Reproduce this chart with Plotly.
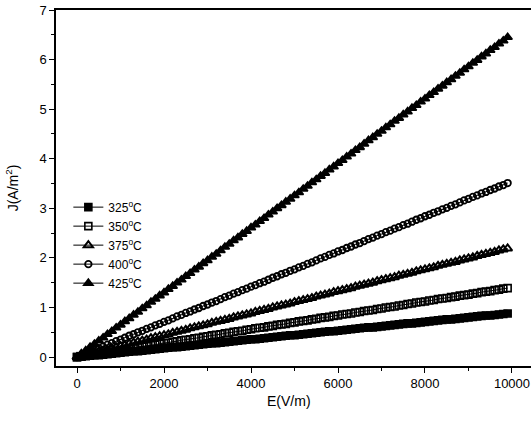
import plotly.graph_objects as go

E = list(range(0, 10000, 100))

J_325 = [0.00,0.01,0.02,0.03,0.04,0.04,0.05,0.06,0.07,0.08,
         0.09,0.10,0.11,0.12,0.12,0.13,0.14,0.15,0.16,0.17,
         0.18,0.19,0.20,0.20,0.21,0.22,0.23,0.24,0.25,0.26,
         0.27,0.28,0.28,0.29,0.30,0.31,0.32,0.33,0.34,0.35,
         0.36,0.36,0.37,0.38,0.39,0.40,0.41,0.42,0.43,0.44,
         0.44,0.45,0.46,0.47,0.48,0.49,0.50,0.51,0.52,0.52,
         0.53,0.54,0.55,0.56,0.57,0.58,0.59,0.60,0.60,0.61,
         0.62,0.63,0.64,0.65,0.66,0.67,0.68,0.68,0.69,0.70,
         0.71,0.72,0.73,0.74,0.75,0.76,0.76,0.77,0.78,0.79,
         0.80,0.81,0.82,0.83,0.84,0.84,0.85,0.86,0.87,0.88]

J_350 = [0.00,0.01,0.03,0.04,0.06,0.07,0.08,0.10,0.11,0.13,
         0.14,0.15,0.17,0.18,0.20,0.21,0.22,0.24,0.25,0.27,
         0.28,0.29,0.31,0.32,0.34,0.35,0.36,0.38,0.39,0.41,
         0.42,0.44,0.45,0.46,0.48,0.49,0.51,0.52,0.53,0.55,
         0.56,0.58,0.59,0.60,0.62,0.63,0.65,0.66,0.67,0.69,
         0.70,0.72,0.73,0.74,0.76,0.77,0.79,0.80,0.81,0.83,
         0.84,0.86,0.87,0.88,0.90,0.91,0.93,0.94,0.95,0.97,
         0.98,1.00,1.01,1.02,1.04,1.05,1.07,1.08,1.10,1.11,
         1.12,1.14,1.15,1.17,1.18,1.19,1.21,1.22,1.24,1.25,
         1.26,1.28,1.29,1.31,1.32,1.33,1.35,1.36,1.38,1.39]

J_375 = [0.00,0.02,0.04,0.07,0.09,0.11,0.13,0.15,0.18,0.20,
         0.22,0.24,0.27,0.29,0.31,0.33,0.35,0.38,0.40,0.42,
         0.44,0.46,0.49,0.51,0.53,0.55,0.58,0.60,0.62,0.64,
         0.66,0.69,0.71,0.73,0.75,0.77,0.80,0.82,0.84,0.86,
         0.88,0.91,0.93,0.95,0.97,1.00,1.02,1.04,1.06,1.08,
         1.11,1.13,1.15,1.17,1.19,1.22,1.24,1.26,1.28,1.31,
         1.33,1.35,1.37,1.39,1.42,1.44,1.46,1.48,1.50,1.53,
         1.55,1.57,1.59,1.61,1.64,1.66,1.68,1.70,1.73,1.75,
         1.77,1.79,1.81,1.84,1.86,1.88,1.90,1.92,1.95,1.97,
         1.99,2.01,2.04,2.06,2.08,2.10,2.12,2.15,2.17,2.19]

J_400 = [0.00,0.04,0.07,0.11,0.14,0.18,0.21,0.25,0.28,0.32,
         0.35,0.39,0.43,0.46,0.50,0.53,0.57,0.60,0.64,0.67,
         0.71,0.74,0.78,0.82,0.85,0.89,0.92,0.96,0.99,1.03,
         1.06,1.10,1.13,1.17,1.21,1.24,1.28,1.31,1.35,1.38,
         1.42,1.45,1.49,1.52,1.56,1.60,1.63,1.67,1.70,1.74,
         1.77,1.81,1.84,1.88,1.91,1.95,1.99,2.02,2.06,2.09,
         2.13,2.16,2.20,2.23,2.27,2.30,2.34,2.38,2.41,2.45,
         2.48,2.52,2.55,2.59,2.62,2.66,2.69,2.73,2.77,2.80,
         2.84,2.87,2.91,2.94,2.98,3.01,3.05,3.08,3.12,3.16,
         3.19,3.23,3.26,3.30,3.33,3.37,3.40,3.44,3.47,3.51]

J_425 = [0.00,0.07,0.13,0.20,0.26,0.33,0.39,0.46,0.52,0.59,
         0.65,0.72,0.78,0.85,0.91,0.98,1.04,1.11,1.17,1.24,
         1.30,1.37,1.43,1.50,1.56,1.63,1.69,1.76,1.82,1.89,
         1.95,2.02,2.08,2.15,2.22,2.28,2.35,2.41,2.48,2.54,
         2.61,2.67,2.74,2.80,2.87,2.93,3.00,3.06,3.13,3.19,
         3.26,3.32,3.39,3.45,3.52,3.58,3.65,3.71,3.78,3.84,
         3.91,3.97,4.04,4.10,4.17,4.23,4.30,4.37,4.43,4.50,
         4.56,4.63,4.69,4.76,4.82,4.89,4.95,5.02,5.08,5.15,
         5.21,5.28,5.34,5.41,5.47,5.54,5.60,5.67,5.73,5.80,
         5.86,5.93,5.99,6.06,6.12,6.19,6.25,6.32,6.38,6.45]

x_ticks = [0, 2000, 4000, 6000, 8000, 10000]
x_ticktext = ["0", "2000", "4000", "6000", "8000", "10000"]
y_ticks = [0, 1, 2, 3, 4, 5, 6, 7]

labels = ["325<sup>o</sup>C", "350<sup>o</sup>C", "375<sup>o</sup>C",
          "400<sup>o</sup>C", "425<sup>o</sup>C"]
series = [J_325, J_350, J_375, J_400, J_425]
symbols = ["square", "square-open", "triangle-up-open", "circle-open", "triangle-up"]
sizes = [7, 7, 8, 6.5, 8]
widths = [1.6, 1.6, 2.0, 1.8, 1.6]

fig = go.Figure()
for lab, ys, sym, sz, lw in zip(labels, series, symbols, sizes, widths):
    fig.add_trace(go.Scatter(
        x=E, y=ys, name=lab, mode="lines+markers",
        line=dict(color="black", width=1),
        marker=dict(symbol=sym, size=sz, color="black",
                    line=dict(color="black", width=lw)),
    ))

font = "Arial, Liberation Sans, sans-serif"
fig.update_layout(
    width=531, height=422,
    margin=dict(l=56, r=0, t=10, b=56, autoexpand=False),
    paper_bgcolor="white", plot_bgcolor="white",
    font=dict(family=font, size=13, color="black"),
    showlegend=True,
    legend=dict(x=0.026, y=0.487, xanchor="left", yanchor="top",
                bgcolor="rgba(0,0,0,0)", font=dict(size=12),
                itemwidth=30, tracegroupgap=0),
    annotations=[
        dict(text="E(V/m)", x=0.49, y=-0.097, xref="paper", yref="paper",
             xanchor="center", yanchor="middle", showarrow=False,
             font=dict(size=14)),
        dict(text="J(A/m<sup>2</sup>)", x=-0.092, y=0.5, xref="paper", yref="paper",
             xanchor="center", yanchor="middle", showarrow=False, textangle=-90,
             font=dict(size=14)),
    ],
)
fig.update_xaxes(
    range=[-483, 10437], showgrid=False, zeroline=False, automargin=False,
    showline=True, linecolor="black", linewidth=1.5, mirror=True,
    ticks="outside", ticklen=5, tickwidth=1, tickcolor="black",
    tickvals=x_ticks, ticktext=x_ticktext,
    minor=dict(ticks="outside", ticklen=3, tickcolor="black",
               tickvals=[1000, 3000, 5000, 7000, 9000]),
)
fig.update_yaxes(
    range=[-0.18, 7], showgrid=False, zeroline=False, automargin=False,
    showline=True, linecolor="black", linewidth=1.5, mirror=False,
    ticks="outside", ticklen=5, tickwidth=1, tickcolor="black",
    tickvals=y_ticks,
    minor=dict(ticks="outside", ticklen=3, tickcolor="black",
               tickvals=[0.5, 1.5, 2.5, 3.5, 4.5, 5.5, 6.5]),
)

fig.write_html("out.html", config={"displayModeBar": False},
               post_script="document.body.style.margin='0';document.body.style.overflow='hidden';")
